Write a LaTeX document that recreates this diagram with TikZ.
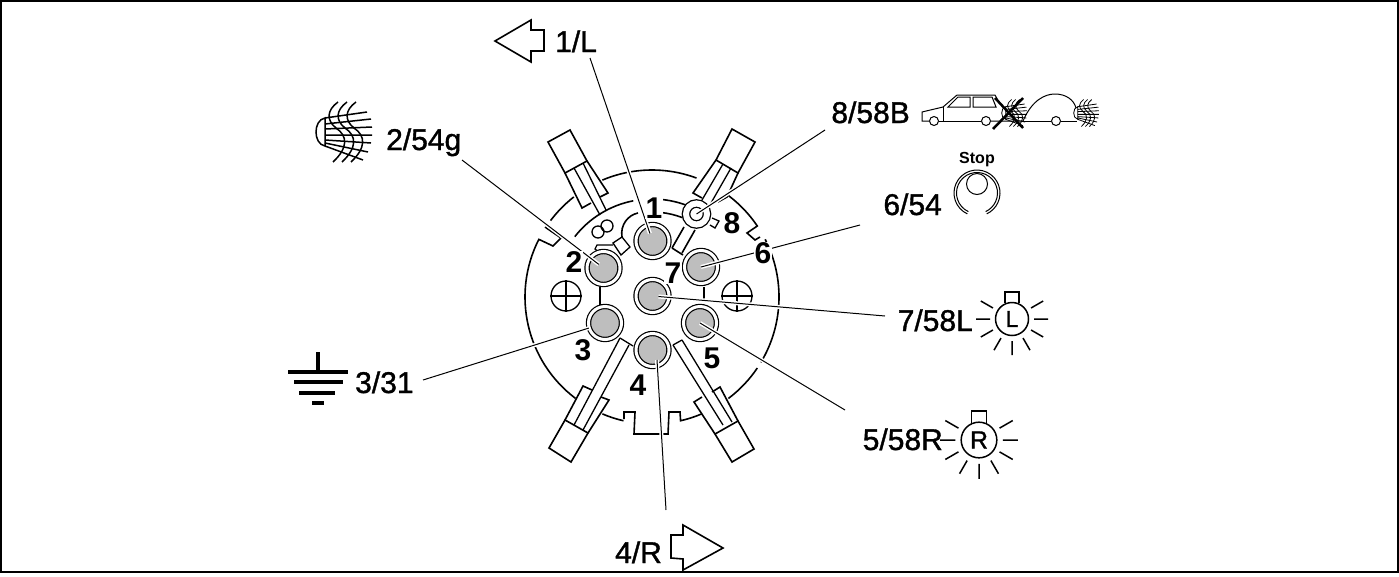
\documentclass[tikz,border=0pt]{standalone}
\usepackage{fontspec}
\setmainfont{Liberation Sans}
\newfontfamily\heavyfont[FakeBold=1.2]{Liberation Sans}
\usetikzlibrary{positioning}
\definecolor{pingray}{HTML}{BEBEBE}

\begin{document}
\begin{tikzpicture}[x=1pt, y=-1pt, line join=miter]
    \tikzset{
        housing/.style = {line width=1.6pt, draw=black},
        thin_line/.style = {line width=1.3pt, draw=black},
        pinnode/.style = {circle, minimum size=33pt, inner sep=0pt, outer sep=0pt, fill=pingray, draw=black, line width=1.2pt, double=white, double distance=3pt},
        screw/.style = {circle, minimum size=30pt, inner sep=0pt, line width=1.3pt, draw=black, fill=white},
        digit/.style = {font=\fontsize{30}{30}\selectfont\bfseries, fill=white, inner sep=0.5pt},
        callout/.style = {font=\fontsize{30}{30}\heavyfont, inner sep=0pt},
        leader/.style = {line width=1pt, draw=black, preaction={draw=white, line width=4pt}},
        beam_line/.style = {line width=1.5pt},
        pics/beam/.style = {code={
            \draw [beam_line] (-5,-14) .. controls (-17,-12) and (-17,12) .. (-5,14) -- cycle;
            \draw [beam_line] (-5,-14) -- (37,-20) (-5,-8) -- (41,-13) (-5,-3) -- (42,-5) (-5,3) -- (42,3) (-5,8) -- (41,11) (-5,11) -- (38,20) (-5,14) -- (33,28);
            \draw [beam_line] (8,-30) .. controls (-3,-22) and (-4,-12) .. (6,-4) .. controls (18,4) and (18,16) .. (3,30);
            \draw [beam_line] (17,-30) .. controls (6,-22) and (5,-12) .. (15,-4) .. controls (27,4) and (27,16) .. (12,30);
            \draw [beam_line] (26,-30) .. controls (15,-22) and (14,-12) .. (24,-4) .. controls (36,4) and (36,16) .. (21,30);
        }},
        pics/lamp/.style = {code={
            \node [circle, transform shape, minimum size=33pt, inner sep=0pt, line width=1.5pt, draw=black, font=\fontsize{23}{23}\heavyfont] (bulb) at (0,0) {#1};
            \draw [line width=1.5pt] (-7,-16) -- (-7,-27) -- (7,-27) -- (7,-16);
            \draw [line width=1.5pt] (0:22) -- (0:36) (30:22) -- (30:36) (60:22) -- (60:36) (90:22) -- (90:36) (120:22) -- (120:36) (150:22) -- (150:36) (180:22) -- (180:36) (210:22) -- (210:36) (-30:22) -- (-30:36);
        }},
    }
    \useasboundingbox (0,0) rectangle (1399,576);
    \coordinate (centre) at (652,297);
    \node (frame) [rectangle, draw=black, line width=2pt, minimum width=1397pt, minimum height=571pt, inner sep=0pt] at (699.5,286.5) {};

    % outer body
    \draw [housing] (centre) ++(-113:127) arc [start angle=-113, end angle=-69.5, radius=127];
    \draw [housing] (centre) ++(-53:127) arc [start angle=-53, end angle=-34, radius=127] -- (747,233) -- (755,240) -- (760,237);
    \draw [housing] (centre) ++(-27:127) arc [start angle=-27, end angle=31, radius=127];
    \draw [housing] (centre) ++(34:127) arc [start angle=34, end angle=53, radius=127];
    \draw [housing] (centre) ++(67:127) arc [start angle=67, end angle=77, radius=127] -- (680,412) -- (669,412) -- (668,434) -- (634,434) -- (635,412) -- (624,412) -- (624,419);
    \draw [housing] (centre) ++(103:127) arc [start angle=103, end angle=113, radius=127];
    \draw [housing] (centre) ++(127:127) arc [start angle=127, end angle=207, radius=127] -- (553,246) -- (561,238) -- (545,227);
    \draw [housing] (centre) ++(217:127) arc [start angle=217, end angle=232, radius=127];

    % inner body
    \draw [housing] (centre) ++(218:98) arc [start angle=218, end angle=259, radius=98];
    \draw [housing] (centre) ++(276:98) arc [start angle=276, end angle=290, radius=98];
    \draw [housing] (centre) ++(276:85) arc [start angle=276, end angle=291, radius=85];
    \draw [housing] (622,237) .. controls (620,225) and (628,215) .. (638,213);
    \draw [thin_line] (613,243) -- (622,237) -- (630,247) -- (621,255) -- cycle;
    \draw [thin_line] (613,245) -- (597,245) -- (595,249) -- (600,253);
    \node (hole_a) [circle, draw=black, line width=1.3pt, minimum size=12pt, inner sep=0pt] at (598,232) {};
    \node (hole_b) [circle, draw=black, line width=1.3pt, minimum size=12pt, inner sep=0pt] at (607,226) {};
    \draw [housing] (672,248) -- (683,255);
    \draw [housing] (684,227) -- (672,248);
    \draw [housing] (695,230) -- (682,253);
    \draw [thin_line] (600,287) -- (600,305);
    \draw [thin_line] (704,287) -- (704,300);
    \draw [thin_line] (620,338) -- (633,346);
    \draw [thin_line] (673,345) -- (682,340);

    % terminals
    \draw [housing] (548,142) -- (570,130) -- (587,161) -- (565,173) -- cycle;
    \draw [housing] (565,173) -- (582,208) -- (591,203);
    \draw [housing] (587,161) -- (608,193) -- (600,197);
    \draw [thin_line] (574,168) -- (600,215);
    \draw [thin_line] (583,163) -- (606,210);
    \draw [housing] (732,129) -- (755,142) -- (738,173) -- (716,160) -- cycle;
    \draw [housing] (716,160) -- (693,193) -- (702,198);
    \draw [housing] (738,173) -- (727,197) -- (718,202);
    \draw [thin_line] (723,164) -- (702,200);
    \draw [thin_line] (731,168) -- (711,203);
    \draw [housing] (565,420) -- (549,448) -- (571,462) -- (588,433) -- cycle;
    \draw [housing] (565,420) -- (583,386) -- (592,390);
    \draw [housing] (588,433) -- (609,400) -- (601,397);
    \draw [thin_line] (574,425) -- (620,338);
    \draw [thin_line] (583,430) -- (629,345);
    \draw [housing] (715,434) -- (738,421) -- (754,449) -- (732,462) -- cycle;
    \draw [housing] (738,421) -- (720,387) -- (712,392);
    \draw [housing] (715,434) -- (694,402) -- (702,397);
    \draw [thin_line] (673,345) -- (723,425);
    \draw [thin_line] (682,340) -- (732,422);

    % screws
    \node (screw_l) [screw] at (566,296) {};
    \node (screw_r) [screw] at (737,296) {};
    \draw [thin_line] (screw_l.north) -- (screw_l.south);
    \draw [thin_line] (screw_l.west) -- (screw_l.east);
    \draw [thin_line] (screw_r.north) -- (screw_r.south);
    \draw [thin_line] (screw_r.west) -- (screw_r.east);

    % pins
    \node (pin_one) [pinnode] at (652.5,241) {};
    \node (pin_two) [pinnode] at (603.5,268) {};
    \node (pin_three) [pinnode] at (605,323) {};
    \node (pin_four) [pinnode] at (652.5,350) {};
    \node (pin_five) [pinnode] at (700,323) {};
    \node (pin_six) [pinnode] at (701,267) {};
    \node (pin_seven) [pinnode] at (652.5,296) {};
    \node (pin_eight) [circle, minimum size=21pt, inner sep=0pt, line width=1.3pt, draw=black, double=white, double distance=6pt, fill=white] at (696.5,214) {};

    % callouts
    \node (lbl_one) [callout, anchor=base west] at (555,52) {1/L};
    \node (lbl_two) [callout, anchor=base west] at (386,150) {2/54g};
    \node (lbl_three) [callout, anchor=base west] at (355,393) {3/31};
    \node (lbl_four) [callout, anchor=base west] at (615,563) {4/R};
    \node (lbl_five) [callout, anchor=base east] at (943,450) {5/58R};
    \node (lbl_six) [callout, anchor=base east] at (942,215) {6/54};
    \node (lbl_seven) [callout, anchor=base east] at (973,331) {7/58L};
    \node (lbl_eight) [callout, anchor=base east] at (910,123) {8/58B};

    \coordinate (start_one) at (590,58);
    \coordinate (start_two) at (462,160);
    \coordinate (start_three) at (423,380);
    \coordinate (start_four) at (666,510);
    \coordinate (tip_four) at (657,360);
    \coordinate (start_five) at (845,410);
    \coordinate (start_six) at (860,225);
    \coordinate (start_seven) at (885,316);
    \coordinate (start_eight) at (825,130);

    \draw [leader, shorten >=8pt] (start_one) -- (pin_one.center);
    \draw [leader, shorten >=6pt] (start_two) -- (pin_two.center);
    \draw [leader, shorten >=17pt] (start_three) -- (pin_three.center);
    \draw [leader] (start_four) -- (tip_four);
    \draw [leader] (start_five) -- (pin_five.center);
    \draw [leader] (start_six) -- (pin_six.center);
    \draw [leader, shorten >=6pt] (start_seven) -- (pin_seven.center);
    \draw [leader] (start_eight) -- (pin_eight.center);

    % contact numbers
    \node (num_one) [digit] at (654,208) {1};
    \node (num_two) [digit] at (574,262) {2};
    \node (num_three) [digit] at (583,350) {3};
    \node (num_four) [digit] at (638,385) {4};
    \node (num_five) [digit] at (712,358) {5};
    \node (num_six) [digit] at (763,253) {6};
    \node (num_seven) [digit] at (673,273) {7};
    \node (num_eight) [digit] at (732,223) {8};
    \draw [thin_line, fill=white] (712,218) -- (719,221) -- (715,228) -- (710,225);

    % symbols
    \draw [line width=1.6pt] (495,41) -- (531,20) -- (531,30) -- (544,30) -- (544,51) -- (531,51) -- (531,62) -- cycle;
    \draw [line width=1.6pt] (723,548) -- (683,525) -- (683,535) -- (671,535) -- (671,558) -- (683,559) -- (683,570) -- cycle;
    \draw [line width=4.5pt] (318,352) -- (318,372);
    \draw [line width=4.5pt] (288,372) -- (348,372);
    \draw [line width=4.5pt] (294,382) -- (343,382);
    \draw [line width=4.5pt] (299,393) -- (335,393);
    \draw [line width=4.5pt] (312,403) -- (324,403);
    \pic at (330,132) {beam};
    \pic [scale=0.45, beam_line/.style={line width=0.8pt}] at (1008,113) {beam};
    \pic [scale=0.45, beam_line/.style={line width=0.8pt}] at (1080,113) {beam};
    \pic at (1012,319) {lamp=L};
    \pic [scale=1.08] at (979,440) {lamp=R};

    \node (car_rear) [circle, draw=black, line width=1pt, minimum size=9pt, inner sep=0pt] at (986,121) {};
    \node (car_front) [circle, draw=black, line width=1pt, minimum size=9pt, inner sep=0pt] at (934,121) {};
    \node (trailer_wheel) [circle, draw=black, line width=1pt, minimum size=9pt, inner sep=0pt] at (1056,121) {};
    \draw [line width=1pt] (car_front.west) -- (922,121) -- (922,112) -- (943,107) -- (957,95) -- (995,95) -- (1000,104);
    \draw [line width=1pt] (943,107) -- (943,121);
    \draw [line width=1pt] (car_front.east) -- (car_rear.west);
    \draw [line width=1pt] (car_rear.east) -- (1023,121) .. controls (1032,100) and (1045,94) .. (1055,94) .. controls (1066,94) and (1074,100) .. (1076,108);
    \draw [line width=1pt] (1023,121) -- (trailer_wheel.west);
    \draw [line width=1pt] (trailer_wheel.east) -- (1077,121);
    \draw [line width=1pt] (948,107) -- (958,97) -- (970,97) -- (970,107) -- cycle;
    \draw [line width=1pt] (973,97) -- (992,97) -- (996,107) -- (973,107) -- cycle;
    \draw [line width=2.5pt] (995,98) -- (1023,128);
    \draw [line width=2.5pt] (1023,98) -- (993,129);

    \node (stop_lbl) [font=\fontsize{16}{16}\selectfont\bfseries, inner sep=0pt] at (977,160) {Stop};
    \node (stop_lens) [circle, draw=black, line width=1pt, minimum size=21pt, inner sep=0pt] at (977,184) {};
    \draw [line width=1pt] (977,193) ++(115:23) arc [start angle=115, end angle=425, radius=23];
    \draw [line width=1pt] (977,193) ++(115:20.5) arc [start angle=115, end angle=425, radius=20.5];
\end{tikzpicture}
\end{document}
